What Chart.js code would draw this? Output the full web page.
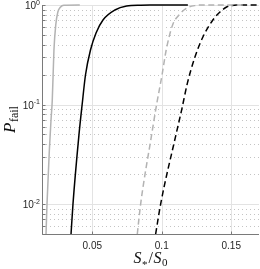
<!DOCTYPE html>
<html>
<head>
<meta charset="utf-8">
<script src="https://cdn.jsdelivr.net/npm/chart.js@4.4.0/dist/chart.umd.min.js"></script>
<style>
  html, body { margin: 0; padding: 0; background: #fff; }
  #wrap { width: 260px; height: 269px; position: relative; }
</style>
</head>
<body>
<div id="wrap"><canvas id="pfailChart"></canvas></div>
<script>
// tick values and labels
const xTicks = [0.05, 0.1, 0.15];
const xTickLabels = ['0.05', '0.1', '0.15'];
const yDecades = [1, 0.1, 0.01];
const yTickExponents = ['0', '-1', '-2'];

// light grey, solid
const greySolidX = [0.0167, 0.0174, 0.0191, 0.0203, 0.0212, 0.0224, 0.0237, 0.0252, 0.0270, 0.0295, 0.0410];
const greySolidY = [0.005, 0.01, 0.035, 0.07, 0.111, 0.353, 0.63, 0.85, 0.95, 0.995, 1.0];

// black, solid
const blackSolidX = [0.0347, 0.0361, 0.0404, 0.0427, 0.0451, 0.0487, 0.0527, 0.0577, 0.0663, 0.0747, 0.0850, 0.0915, 0.1188];
const blackSolidY = [0.005, 0.01, 0.0495, 0.1, 0.198, 0.353, 0.524, 0.707, 0.891, 0.977, 0.997, 1.0, 1.0];

// light grey, dashed
const greyDashX = [0.0824, 0.0848, 0.0927, 0.0963, 0.1002, 0.1032, 0.1078, 0.1124, 0.1181, 0.1246, 0.1300, 0.1600];
const greyDashY = [0.005, 0.01, 0.0495, 0.1, 0.198, 0.353, 0.63, 0.794, 0.933, 0.99, 1.0, 1.0];

// black, dashed
const blackDashX = [0.0956, 0.0992, 0.1102, 0.1143, 0.1185, 0.1239, 0.1296, 0.1368, 0.1419, 0.1467, 0.1539, 0.1700];
const blackDashY = [0.005, 0.01, 0.0495, 0.088, 0.165, 0.30, 0.477, 0.707, 0.85, 0.955, 1.0, 1.0];

const pts = (xs, ys) => xs.map((x, i) => ({ x: x, y: ys[i] }));

const SANS = '"Liberation Sans", Arial, sans-serif';
const SERIF = '"Liberation Serif", "DejaVu Serif", serif';

// draw a run of text pieces with different fonts, centred on x
function drawRuns(ctx, runs, cx, baseY) {
  let total = 0;
  runs.forEach(r => { ctx.font = r.font; r.w = ctx.measureText(r.text).width + (r.pad || 0); total += r.w; });
  let x = cx - total / 2;
  ctx.textAlign = 'left';
  ctx.textBaseline = 'alphabetic';
  runs.forEach(r => {
    ctx.font = r.font;
    ctx.fillText(r.text, x, baseY + (r.dy || 0));
    x += r.w;
  });
}

const matlabAxes = {
  id: 'matlabAxes',
  beforeDatasetsDraw(chart) {
    const { ctx, chartArea: a, scales: { x, y } } = chart;
    ctx.save();
    // minor grid (dotted)
    ctx.strokeStyle = '#c4c4c4';
    ctx.lineWidth = 1;
    ctx.setLineDash([1, 3]);
    for (let d = 0.001; d < 1; d *= 10) {
      for (let k = 2; k <= 9; k++) {
        const v = k * d;
        if (v < y.min || v > y.max) continue;
        const py = Math.round(y.getPixelForValue(v)) + 0.5;
        ctx.beginPath(); ctx.moveTo(a.left, py); ctx.lineTo(a.right, py); ctx.stroke();
      }
    }
    // major grid
    ctx.setLineDash([]);
    ctx.strokeStyle = '#e3e3e3';
    yDecades.forEach(v => {
      const py = Math.round(y.getPixelForValue(v)) + 0.5;
      ctx.beginPath(); ctx.moveTo(a.left, py); ctx.lineTo(a.right, py); ctx.stroke();
    });
    xTicks.forEach(v => {
      const px = Math.round(x.getPixelForValue(v)) + 0.5;
      ctx.beginPath(); ctx.moveTo(px, a.top); ctx.lineTo(px, a.bottom); ctx.stroke();
    });
    ctx.restore();
  },
  afterDatasetsDraw(chart) {
    const { ctx, chartArea: a, scales: { x, y } } = chart;
    ctx.save();
    ctx.strokeStyle = '#7a7a7a';
    ctx.lineWidth = 1;
    const lx = Math.round(a.left) + 0.5;
    const by = Math.round(a.bottom) + 0.5;
    ctx.beginPath();
    ctx.moveTo(lx, a.top); ctx.lineTo(lx, by); ctx.lineTo(a.right, by);
    ctx.stroke();
    // y ticks (inward), majors and minors
    for (let d = 0.001; d <= 1; d *= 10) {
      for (let k = 1; k <= 9; k++) {
        const v = k * d;
        if (v < y.min || v > y.max * 1.0001) continue;
        const py = Math.round(y.getPixelForValue(v)) + 0.5;
        ctx.beginPath(); ctx.moveTo(lx, py); ctx.lineTo(lx + 3, py); ctx.stroke();
      }
    }
    xTicks.forEach(v => {
      const px = Math.round(x.getPixelForValue(v)) + 0.5;
      ctx.beginPath(); ctx.moveTo(px, by); ctx.lineTo(px, by - 3); ctx.stroke();
    });

    // tick labels
    ctx.fillStyle = '#262626';
    ctx.font = '10px ' + SANS;
    ctx.textAlign = 'center';
    ctx.textBaseline = 'alphabetic';
    xTicks.forEach((v, i) => {
      ctx.fillText(xTickLabels[i], x.getPixelForValue(v), 248.5);
    });
    yDecades.forEach((v, i) => {
      const py = y.getPixelForValue(v);
      const right = a.left - 2;
      ctx.textAlign = 'right';
      ctx.font = '7px ' + SANS;
      const ew = ctx.measureText(yTickExponents[i]).width;
      ctx.fillText(yTickExponents[i], right, py - 0.5);
      ctx.font = '10px ' + SANS;
      ctx.fillText('10', right - ew, py + 4);
    });

    // axis titles
    ctx.fillStyle = '#111';
    drawRuns(ctx, [
      { text: 'S', font: 'italic 16px ' + SERIF, pad: 0.5 },
      { text: '*', font: '11px ' + SERIF, dy: 5, pad: 1 },
      { text: '/', font: '16px ' + SERIF, pad: 0.5 },
      { text: 'S', font: 'italic 16px ' + SERIF, pad: 0.5 },
      { text: '0', font: '11px ' + SERIF, dy: 3 }
    ], (a.left + a.right) / 2, 263);

    ctx.translate(15, (a.top + a.bottom) / 2);
    ctx.rotate(-Math.PI / 2);
    drawRuns(ctx, [
      { text: 'P', font: 'italic 17px ' + SERIF, pad: 0.5 },
      { text: 'fail', font: '12px ' + SERIF, dy: 2.5 }
    ], 0, 0);
    ctx.restore();
  }
};

const lineSet = (data, color, dash) => ({
  data: data,
  borderColor: color,
  borderWidth: 1.5,
  borderDash: dash,
  pointRadius: 0,
  fill: false,
  cubicInterpolationMode: 'monotone',
  clip: { left: 0, top: 3, right: 1, bottom: 0 }
});

new Chart(document.getElementById('pfailChart').getContext('2d'), {
  type: 'line',
  data: {
    datasets: [
      lineSet(pts(greySolidX, greySolidY), '#b3b3b3', []),
      lineSet(pts(greyDashX, greyDashY), '#b3b3b3', [6, 3.5]),
      lineSet(pts(blackSolidX, blackSolidY), '#000000', []),
      lineSet(pts(blackDashX, blackDashY), '#000000', [6, 3.5])
    ]
  },
  options: {
    responsive: true,
    maintainAspectRatio: false,
    animation: false,
    layout: { padding: { left: 42, top: 5, right: 1, bottom: 35 } },
    scales: {
      x: { type: 'linear', min: 0.0138, max: 0.17, display: false },
      y: { type: 'logarithmic', min: 0.005, max: 1, display: false }
    },
    plugins: {
      legend: { display: false },
      tooltip: { enabled: false }
    }
  },
  plugins: [matlabAxes]
});
</script>
</body>
</html>
